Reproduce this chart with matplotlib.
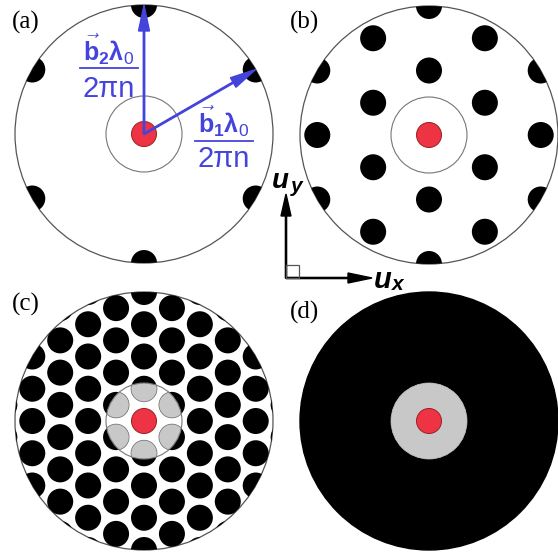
import numpy as np
import matplotlib.pyplot as plt
from matplotlib.patches import Circle, FancyArrow, Rectangle

plt.rcParams['mathtext.fontset'] = 'custom'
plt.rcParams['mathtext.rm'] = 'Liberation Sans'
plt.rcParams['mathtext.it'] = 'Liberation Sans:italic'
plt.rcParams['mathtext.bf'] = 'Liberation Sans:bold'

# panel layout (pixel units)
panel_labels = ['(a)', '(b)', '(c)', '(d)']
centers_x = [144, 429, 144, 429]
centers_y = [134, 135, 421, 421]
label_x = [12, 290, 12, 290]
label_y = [22, 22, 304, 312]
# lattice spacing = R / div, 0 means filled disk
lattice_div = [1, 2, 4, 0]

R = 129          # outer circle (NA)
r_in = 38        # inner circle
r_dot = 13       # hole radius
r_core = 12.5    # red core

blue = '#4444dd'
red = '#ee3344'
grey = '#c8c8c8'

fig = plt.figure(figsize=(5.58, 5.52), dpi=100)
ax = fig.add_axes([0, 0, 1, 1])
ax.set_xlim(0, 558)
ax.set_ylim(552, 0)
ax.axis('off')


def lattice_points(a, rmax):
    pts = []
    n = int(rmax / a) + 3
    for i in range(-n, n + 1):
        for j in range(-n, n + 1):
            x = i * a * np.cos(np.pi / 6)
            y = i * a * np.sin(np.pi / 6) + j * a
            d = np.hypot(x, y)
            if d < 1e-6 or d > rmax:
                continue
            pts.append((x, y, d))
    return pts


for k in range(4):
    cx, cy = centers_x[k], centers_y[k]
    outer = Circle((cx, cy), R, transform=ax.transData)
    inner = Circle((cx, cy), r_in, transform=ax.transData)
    if lattice_div[k] == 0:
        ax.add_patch(Circle((cx, cy), R, fc='black', ec='black', lw=1, zorder=1))
        ax.add_patch(Circle((cx, cy), r_in, fc=grey, ec=grey, lw=0.5, zorder=2))
    else:
        ax.add_patch(Circle((cx, cy), R, fc='white', ec='#555555', lw=0.9, zorder=1))
        a = R / lattice_div[k]
        for (x, y, d) in lattice_points(a, R + r_dot):
            dot = Circle((cx + x, cy - y), r_dot, fc='black', ec='none', zorder=2)
            ax.add_patch(dot)
            dot.set_clip_path(outer)
            if d - r_dot < r_in:
                g = Circle((cx + x, cy - y), r_dot, fc=grey, ec='#888888', lw=0.6, zorder=3)
                ax.add_patch(g)
                g.set_clip_path(inner)
        ax.add_patch(Circle((cx, cy), r_in, fc='none', ec='#777777', lw=0.8, zorder=4))
    ax.add_patch(Circle((cx, cy), r_core, fc=red, ec='#992222', lw=0.7, zorder=5))
    ax.text(label_x[k], label_y[k], panel_labels[k], fontsize=18, family='Liberation Serif',
            va='center', ha='left', zorder=6)

# reciprocal lattice vectors in (a)
cx, cy = centers_x[0], centers_y[0]
ang = [np.pi / 2, np.pi / 6]
for t in ang:
    ax.add_patch(FancyArrow(cx, cy, R * np.cos(t), -R * np.sin(t), width=1.4,
                            head_width=11, head_length=26, length_includes_head=True,
                            color=blue, zorder=7))

num_x = [109, 224]
num_y = [61, 133]
bar_y = [67.5, 141]
den_y = [97, 167]
num_txt = [r'$\vec{\mathbf{b}}_{\mathbf{2}}\mathbf{\lambda}_{0}$',
           r'$\vec{\mathbf{b}}_{\mathbf{1}}\mathbf{\lambda}_{0}$']
for i in range(2):
    ax.text(num_x[i], num_y[i], num_txt[i], color=blue, fontsize=18, ha='center', va='baseline', zorder=8)
    ax.plot([num_x[i] - 29, num_x[i] + 29], [bar_y[i], bar_y[i]], color=blue, lw=1.3, zorder=8)
    ax.text(num_x[i], den_y[i], '2πn', color=blue, fontsize=21, family='Liberation Sans',
            ha='center', va='baseline', zorder=8)

# coordinate symbol
ox, oy = 286, 278
ax.add_patch(FancyArrow(ox, oy, 0, -84, width=1.2, head_width=10, head_length=22,
                        length_includes_head=True, color='black', zorder=7))
ax.add_patch(FancyArrow(ox, oy, 86, 0, width=1.2, head_width=10, head_length=24,
                        length_includes_head=True, color='black', zorder=7))
ax.add_patch(Rectangle((ox, oy - 13), 13, 13, fc='none', ec='#555555', lw=0.9, zorder=7))
ax.text(280, 181, 'u', fontsize=20, family='Liberation Sans', weight='bold', style='italic',
        ha='center', va='center')
ax.text(297, 187, 'y', fontsize=15, family='Liberation Sans', weight='bold', style='italic',
        ha='center', va='center')
ax.text(383, 280, 'u', fontsize=21, family='Liberation Sans', weight='bold', style='italic',
        ha='center', va='center')
ax.text(398, 284, 'x', fontsize=15, family='Liberation Sans', weight='bold', style='italic',
        ha='center', va='center')

fig.savefig('out.png', dpi=100)
